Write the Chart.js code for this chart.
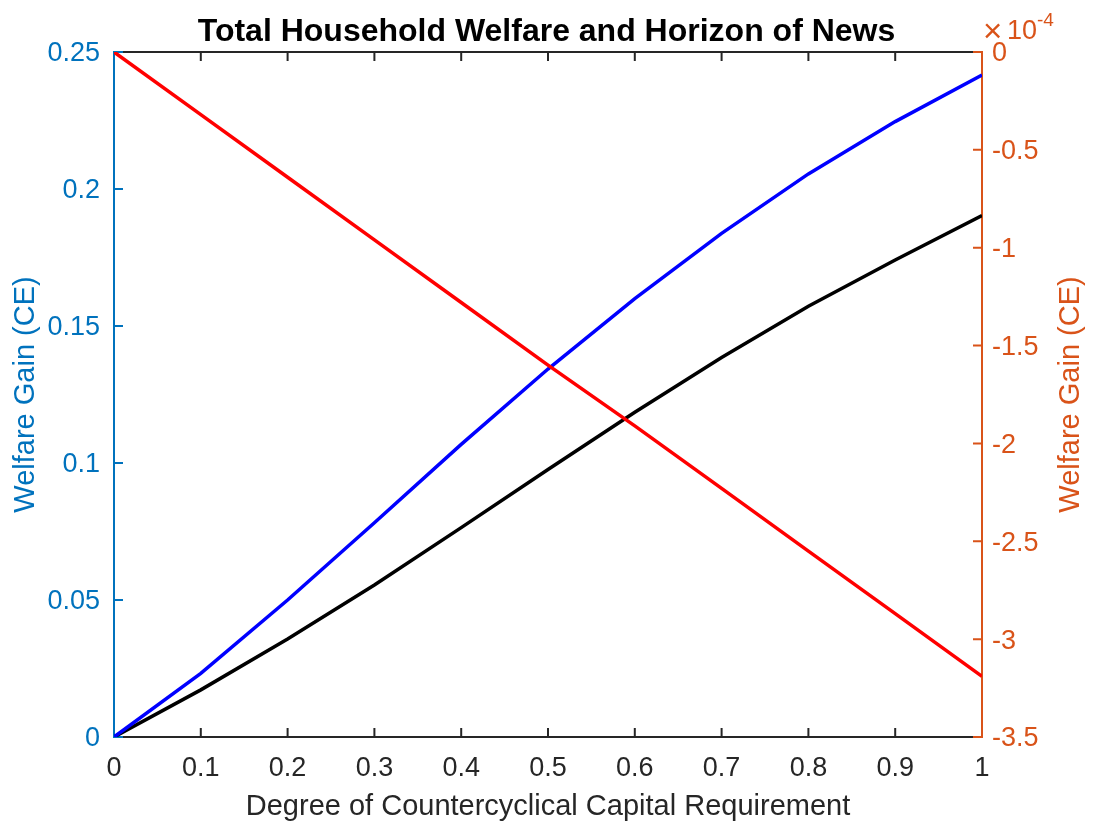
<!DOCTYPE html>
<html>
<head>
<meta charset="utf-8">
<title>Total Household Welfare and Horizon of News</title>
<script src="https://cdn.jsdelivr.net/npm/chart.js@4.4.1/dist/chart.umd.min.js"></script>
<style>
  html, body { margin: 0; padding: 0; background: #ffffff; }
  #wrap { width: 1093px; height: 825px; }
</style>
</head>
<body>
<div id="wrap"><canvas id="c" width="1093" height="825"></canvas></div>
<script>
// Degree of countercyclical capital requirement
const xValues = [0, 0.1, 0.2, 0.3, 0.4, 0.5, 0.6, 0.7, 0.8, 0.9, 1];
const xTicks = [0, 0.1, 0.2, 0.3, 0.4, 0.5, 0.6, 0.7, 0.8, 0.9, 1];
const xTickLabels = ['0', '0.1', '0.2', '0.3', '0.4', '0.5', '0.6', '0.7', '0.8', '0.9', '1'];

// Welfare gains on the left axis (CE)
const blueSeries  = [0, 0.0232, 0.0500, 0.0782, 0.1068, 0.1343, 0.1600, 0.1838, 0.2055, 0.2246, 0.2416];
const blackSeries = [0, 0.0172, 0.0358, 0.0555, 0.0764, 0.0976, 0.1185, 0.1385, 0.1572, 0.1741, 0.1903];

// Welfare gain on the right axis, in units of 1e-4 (CE)
const redSeries = [0, -0.32, -0.64, -0.96, -1.28, -1.60, -1.91, -2.23, -2.55, -2.87, -3.19];

const leftTicks = [0, 0.05, 0.1, 0.15, 0.2, 0.25];
const leftTickLabels = ['0', '0.05', '0.1', '0.15', '0.2', '0.25'];
const rightTicks = [-3.5, -3, -2.5, -2, -1.5, -1, -0.5, 0];
const rightTickLabels = ['-3.5', '-3', '-2.5', '-2', '-1.5', '-1', '-0.5', '0'];

const titleText = 'Total Household Welfare and Horizon of News';
const xTitleText = 'Degree of Countercyclical Capital Requirement';
const yTitleText = 'Welfare Gain (CE)';

const FONT = "'Liberation Sans', Arial, Helvetica, sans-serif";
const TICK_SIZE = 27;
const LABEL_SIZE = 29;
const AX_DARK = '#262626';
const AX_LEFT = '#0072BD';
const AX_RIGHT = '#D95319';

const toPoints = (ys) => xValues.map((x, i) => ({ x: x, y: ys[i] }));

function fixedTicks(values) {
  return function (scale) {
    scale.ticks = values.map(v => ({ value: v }));
  };
}
function labelFrom(values, labels) {
  return function (value) {
    const i = values.findIndex(v => Math.abs(v - value) < 1e-9);
    return i >= 0 ? labels[i] : '';
  };
}

// Box, inward tick marks, right-axis title and exponent
const axesPlugin = {
  id: 'matlabAxes',
  beforeDatasetsDraw(chart) {
    const { ctx, chartArea: a, scales } = chart;
    const tl = 9;
    ctx.save();
    ctx.lineWidth = 2;
    ctx.lineCap = 'butt';

    // x ticks at bottom and top, pointing inward
    ctx.strokeStyle = AX_DARK;
    ctx.beginPath();
    xTicks.forEach(v => {
      const px = scales.x.getPixelForValue(v);
      ctx.moveTo(px, a.bottom); ctx.lineTo(px, a.bottom - tl);
      ctx.moveTo(px, a.top); ctx.lineTo(px, a.top + tl);
    });
    ctx.moveTo(a.left, a.top); ctx.lineTo(a.right, a.top);
    ctx.moveTo(a.left, a.bottom); ctx.lineTo(a.right, a.bottom);
    ctx.stroke();

    // left axis
    ctx.strokeStyle = AX_LEFT;
    ctx.beginPath();
    leftTicks.forEach(v => {
      const py = scales.y.getPixelForValue(v);
      ctx.moveTo(a.left, py); ctx.lineTo(a.left + tl, py);
    });
    ctx.moveTo(a.left, a.top - 1); ctx.lineTo(a.left, a.bottom + 1);
    ctx.stroke();

    // right axis
    ctx.strokeStyle = AX_RIGHT;
    ctx.beginPath();
    rightTicks.forEach(v => {
      const py = scales.y2.getPixelForValue(v);
      ctx.moveTo(a.right, py); ctx.lineTo(a.right - tl, py);
    });
    ctx.moveTo(a.right, a.top - 1); ctx.lineTo(a.right, a.bottom + 1);
    ctx.stroke();
    ctx.restore();
  },
  afterDraw(chart) {
    const { ctx, chartArea: a } = chart;
    ctx.save();
    ctx.fillStyle = AX_RIGHT;

    // right axis title, reading bottom to top
    ctx.save();
    ctx.translate(1071, (a.top + a.bottom) / 2);
    ctx.rotate(-Math.PI / 2);
    ctx.font = LABEL_SIZE + 'px ' + FONT;
    ctx.textAlign = 'center';
    ctx.textBaseline = 'middle';
    ctx.fillText(yTitleText, 0, 0);
    ctx.restore();

    // exponent label above the right axis
    ctx.textAlign = 'left';
    ctx.textBaseline = 'alphabetic';
    ctx.font = '33px ' + FONT;
    ctx.fillText('\u00d7', a.right + 1, 42);
    ctx.font = TICK_SIZE + 'px ' + FONT;
    ctx.fillText('10', a.right + 25, 39);
    ctx.font = '19px ' + FONT;
    ctx.fillText('-4', a.right + 55, 26);
    ctx.restore();
  }
};

const tickFont = { family: FONT, size: TICK_SIZE, lineHeight: 1.2 };
const labelFont = { family: FONT, size: LABEL_SIZE, lineHeight: 1.2 };

const chart = new Chart(document.getElementById('c'), {
  type: 'line',
  data: {
    datasets: [
      {
        label: 'Right axis',
        data: toPoints(redSeries),
        yAxisID: 'y2',
        borderColor: '#FF0000',
        borderWidth: 3.5,
        pointRadius: 0,
        tension: 0,
        fill: false
      },
      {
        label: 'Blue',
        data: toPoints(blueSeries),
        yAxisID: 'y',
        borderColor: '#0000FF',
        borderWidth: 3.5,
        pointRadius: 0,
        tension: 0,
        fill: false
      },
      {
        label: 'Black',
        data: toPoints(blackSeries),
        yAxisID: 'y',
        borderColor: '#000000',
        borderWidth: 3.5,
        pointRadius: 0,
        tension: 0,
        fill: false
      }
    ]
  },
  options: {
    responsive: false,
    animation: false,
    devicePixelRatio: 1,
    layout: { padding: 0 },
    plugins: {
      legend: { display: false },
      tooltip: { enabled: false },
      title: {
        display: true,
        text: titleText,
        color: '#000000',
        font: { family: FONT, size: 32, weight: 'bold', lineHeight: 1.2 },
        padding: { top: 13, bottom: 0.6 }
      }
    },
    scales: {
      x: {
        type: 'linear',
        position: 'bottom',
        min: 0,
        max: 1,
        afterBuildTicks: fixedTicks(xTicks),
        afterFit: (s) => { s.height = 88; },
        grid: { display: false, drawTicks: false },
        border: { display: false },
        ticks: {
          color: AX_DARK,
          padding: 15,
          maxRotation: 0,
          autoSkip: false,
          font: tickFont,
          callback: labelFrom(xTicks, xTickLabels)
        },
        title: {
          display: true,
          text: xTitleText,
          color: AX_DARK,
          font: labelFont,
          padding: { top: 0, bottom: 1 }
        }
      },
      y: {
        type: 'linear',
        position: 'left',
        min: 0,
        max: 0.25,
        afterBuildTicks: fixedTicks(leftTicks),
        afterFit: (s) => { s.width = 114; },
        grid: { display: false, drawTicks: false },
        border: { display: false },
        ticks: {
          color: AX_LEFT,
          padding: 14,
          labelOffset: 2,
          autoSkip: false,
          font: tickFont,
          callback: labelFrom(leftTicks, leftTickLabels)
        },
        title: {
          display: true,
          text: yTitleText,
          color: AX_LEFT,
          font: labelFont,
          padding: { top: 9, bottom: 0 }
        }
      },
      y2: {
        type: 'linear',
        position: 'right',
        min: -3.5,
        max: 0,
        afterBuildTicks: fixedTicks(rightTicks),
        afterFit: (s) => { s.width = 111; },
        grid: { display: false, drawTicks: false },
        border: { display: false },
        ticks: {
          color: AX_RIGHT,
          padding: 10,
          labelOffset: 2,
          autoSkip: false,
          font: tickFont,
          callback: labelFrom(rightTicks, rightTickLabels)
        }
      }
    }
  },
  plugins: [axesPlugin]
});
</script>
</body>
</html>
